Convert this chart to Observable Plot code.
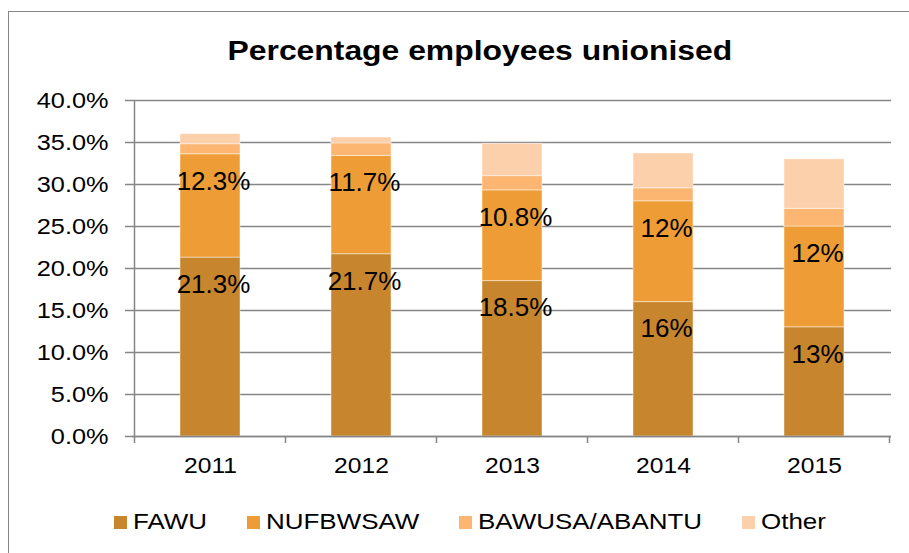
<!DOCTYPE html>
<html>
<head>
<meta charset="utf-8">
<script src="https://cdn.jsdelivr.net/npm/d3@7"></script>
<script src="https://cdn.jsdelivr.net/npm/@observablehq/plot@0.6"></script>
<style>
html, body { margin: 0; padding: 0; background: #fff; }
#wrap { position: relative; width: 909px; height: 553px; overflow: hidden; background: #fff;
  font-family: "Liberation Sans", Arial, sans-serif; color: #000; }
#chart { position: absolute; left: 0; top: 0; }
#border { position: absolute; left: 8px; top: 11px; width: 1000px; height: 700px;
  border: 1.5px solid #868686; box-sizing: border-box; pointer-events: none; background: transparent; z-index: 3; }
#title { position: absolute; left: 0; top: 38px; width: 960px; text-align: center;
  font-weight: bold; font-size: 27px; line-height: 27px; z-index: 2; }
#title span { display: inline-block; transform: scaleX(1.18); }
#legend { position: absolute; left: 114px; top: 511px; display: flex; align-items: center; gap: 40px;
  font-size: 22px; line-height: 22px; z-index: 2; }
.item { display: flex; align-items: center; }
.sw { width: 13px; height: 13px; margin-right: 6px; flex: none; }
.lt { display: inline-block; transform: scaleX(1.18); transform-origin: left center; white-space: nowrap; }
</style>
</head>
<body>
<div id="wrap">
  <div id="title"><span>Percentage employees unionised</span></div>
  <div id="legend"></div>
  <div id="border"></div>
</div>
<script>
const years = ["2011", "2012", "2013", "2014", "2015"];
const seriesNames = ["FAWU", "NUFBWSAW", "BAWUSA/ABANTU", "Other"];
const fawu = [21.3, 21.7, 18.5, 16, 13];
const nufbwsaw = [12.3, 11.7, 10.8, 12, 12];
const bawusa = [1.2, 1.5, 1.7, 1.55, 2.1];
const other = [1.2, 0.7, 3.85, 4.15, 5.9];
const seriesColors = ["#C7852D", "#EE9D36", "#FCB672", "#FDD0AC"];
const yTicks = [0, 5, 10, 15, 20, 25, 30, 35, 40];

const seriesValues = [fawu, nufbwsaw, bawusa, other];
const rows = years.flatMap((year, i) =>
  seriesNames.map((s, j) => ({ year, series: s, value: seriesValues[j][i] })));
const labels = years.flatMap((year, i) => [
  { year, y: fawu[i], text: fawu[i] + "%" },
  { year, y: fawu[i] + nufbwsaw[i], text: nufbwsaw[i] + "%" }
]);

const chart = Plot.plot({
  width: 909, height: 490,
  marginTop: 100, marginBottom: 54, marginLeft: 132, marginRight: 18,
  style: { fontFamily: '"Liberation Sans", Arial, sans-serif', fontSize: "22px", color: "#000", background: "transparent", overflow: "visible" },
  x: { domain: years, paddingInner: 0.605, paddingOuter: 0.3025, label: null },
  y: { domain: [0, 40], label: null },
  color: { domain: seriesNames, range: seriesColors },
  marks: [
    Plot.gridY(yTicks, { stroke: "#868686", strokeOpacity: 1, strokeWidth: 1.5 }),
    Plot.barY(rows, { x: "year", y: "value", fill: "series", stroke: "#fff", strokeOpacity: 0.45, strokeWidth: 1 }),
    Plot.ruleY([0], { stroke: "#868686", strokeWidth: 1.5 }),
    Plot.axisY({ ticks: yTicks, tickSize: 7, tickPadding: 17, tickFormat: d => d.toFixed(1) + "%",
      stroke: "#868686", strokeWidth: 1.5, fill: "#000", label: null, fontSize: 22 }),
    Plot.axisX({ tickSize: 0, tickPadding: 21, fill: "#000", label: null, fontSize: 22 }),
    Plot.text(labels, { x: "year", y: "y", text: "text", dy: 27, dx: 3, fontSize: 26, fill: "#000" })
  ]
});
chart.id = "chart";
document.getElementById("wrap").prepend(chart);

// horizontally widen axis text to match the reference's wide glyphs
function stretch(selector, k) {
  chart.querySelectorAll(selector).forEach(t => {
    let tr = t.getAttribute("transform");
    if (!tr) {
      const x = t.getAttribute("x") || 0, y = t.getAttribute("y") || 0;
      tr = `translate(${x},${y})`;
      t.removeAttribute("x");
    }
    t.setAttribute("transform", tr + ` scale(${k},1)`);
  });
}
stretch('g[aria-label="y-axis tick label"] text', 1.15);
stretch('g[aria-label="x-axis tick label"] text', 1.12);

// vertical axis line and category-boundary ticks from the scales
const xs = chart.scale("x"), ys = chart.scale("y");
const gap = (xs.step - xs.bandwidth) / 2;
const bounds = years.map(y => xs.apply(y) - gap).concat([xs.apply(years[years.length - 1]) + xs.bandwidth + gap]);
const y0 = ys.apply(0), yTop = ys.apply(40);
const g = d3.select(chart).append("g").attr("stroke", "#868686").attr("stroke-width", 1.5);
g.append("line").attr("x1", bounds[0]).attr("x2", bounds[0]).attr("y1", yTop).attr("y2", y0);
bounds.forEach(b => g.append("line").attr("x1", b).attr("x2", b).attr("y1", y0).attr("y2", y0 + 7));

// legend
const legend = document.getElementById("legend");
seriesNames.forEach((s, i) => {
  const item = document.createElement("div");
  item.className = "item";
  const sw = document.createElement("div");
  sw.className = "sw";
  sw.style.background = seriesColors[i];
  const lt = document.createElement("span");
  lt.className = "lt";
  lt.textContent = s;
  item.append(sw, lt);
  legend.append(item);
});
legend.querySelectorAll(".lt").forEach(el => { el.style.marginRight = (el.offsetWidth * 0.18) + "px"; });
</script>
</body>
</html>
